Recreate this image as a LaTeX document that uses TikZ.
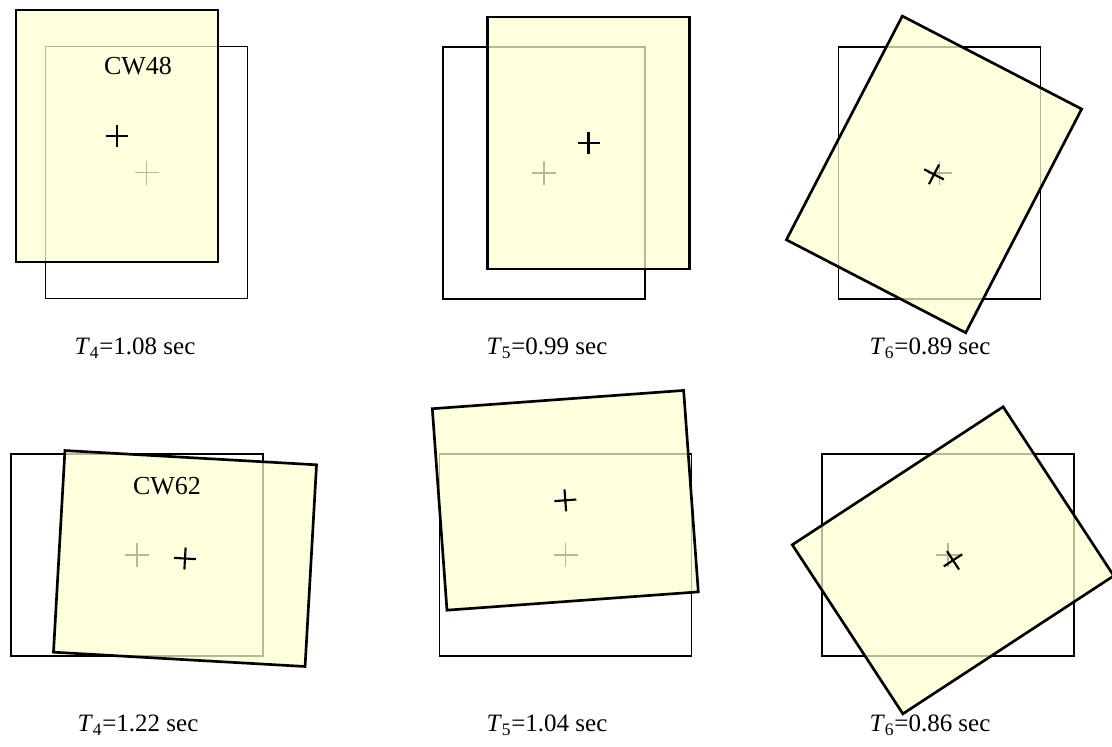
\documentclass[tikz,border=0pt]{standalone}
\usepackage{fontspec}
\setmainfont{Liberation Serif}
\definecolor{paper}{RGB}{255,255,208}
\begin{document}
\begin{tikzpicture}[x=0.75pt,y=-0.75pt,
  orig/.style={draw=black,line width=1.2pt},
  ocross/.style={draw=black,line width=1pt},
  moved/.style={fill=paper,fill opacity=0.72,draw=black,line width=2pt,line join=miter},
  ncross/.style={draw=black,line width=1.6pt},
  lbl/.style={font=\fontsize{18.75}{21}\selectfont,anchor=base,inner sep=0pt},
  cw/.style={font=\fontsize{19.5}{22}\selectfont,inner sep=0pt}]
\useasboundingbox (0,0) rectangle (1112,746);
% ---------- panel 1 ----------
\begin{scope}[shift={(146.5,172.5)}]
  \draw[orig] (-101,-126) rectangle (101,126);
  \draw[ocross] (-12,0)--(12,0) (0,-12)--(0,12);
\end{scope}
\begin{scope}[shift={(117,136)}]
  \draw[moved] (-101,-126) rectangle (101,126);
  \draw[ncross] (-11,0)--(11,0) (0,-11)--(0,11);
\end{scope}
\node[cw] (cw48) at (138,66) {CW48};
\node[lbl] (t4a) at (135,354.5) {\textit{T}\textsubscript{4}=1.08 sec};
% ---------- panel 2 ----------
\begin{scope}[shift={(544,173)}]
  \draw[orig] (-101,-126) rectangle (101,126);
  \draw[ocross] (-12,0)--(12,0) (0,-12)--(0,12);
\end{scope}
\begin{scope}[shift={(588.5,143)}]
  \draw[moved] (-101,-126) rectangle (101,126);
  \draw[ncross] (-11,0)--(11,0) (0,-11)--(0,11);
\end{scope}
\node[lbl] (t5a) at (547,354.5) {\textit{T}\textsubscript{5}=0.99 sec};
% ---------- panel 3 ----------
\begin{scope}[shift={(939.5,173)}]
  \draw[orig] (-101,-126) rectangle (101,126);
  \draw[ocross] (-12,0)--(12,0) (0,-12)--(0,12);
\end{scope}
\begin{scope}[shift={(934,174.4)},rotate=-27.4]
  \draw[moved] (-101,-126) rectangle (101,126);
  \draw[ncross] (-11,0)--(11,0) (0,-11)--(0,11);
\end{scope}
\node[lbl] (t6a) at (930,354.5) {\textit{T}\textsubscript{6}=0.89 sec};
% ---------- panel 4 ----------
\begin{scope}[shift={(137,555)}]
  \draw[orig] (-126,-101) rectangle (126,101);
  \draw[ocross] (-12,0)--(12,0) (0,-12)--(0,12);
\end{scope}
\begin{scope}[shift={(185,558.5)},rotate=-3.25]
  \draw[moved] (-126,-101) rectangle (126,101);
  \draw[ncross] (-11,0)--(11,0) (0,-11)--(0,11);
\end{scope}
\node[cw] (cw62) at (167,486) {CW62};
\node[lbl] (t4b) at (138,731.5) {\textit{T}\textsubscript{4}=1.22 sec};
% ---------- panel 5 ----------
\begin{scope}[shift={(565.5,555)}]
  \draw[orig] (-126,-101) rectangle (126,101);
  \draw[ocross] (-12,0)--(12,0) (0,-12)--(0,12);
\end{scope}
\begin{scope}[shift={(565.3,500.3)},rotate=4.16]
  \draw[moved] (-126,-101) rectangle (126,101);
  \draw[ncross] (-11,0)--(11,0) (0,-11)--(0,11);
\end{scope}
\node[lbl] (t5b) at (547,731.5) {\textit{T}\textsubscript{5}=1.04 sec};
% ---------- panel 6 ----------
\begin{scope}[shift={(948,555)}]
  \draw[orig] (-126,-101) rectangle (126,101);
  \draw[ocross] (-12,0)--(12,0) (0,-12)--(0,12);
\end{scope}
\begin{scope}[shift={(953,560.3)},rotate=33.2]
  \draw[moved] (-126,-101) rectangle (126,101);
  \draw[ncross] (-11,0)--(11,0) (0,-11)--(0,11);
\end{scope}
\node[lbl] (t6b) at (930,731.5) {\textit{T}\textsubscript{6}=0.86 sec};
\end{tikzpicture}
\end{document}
